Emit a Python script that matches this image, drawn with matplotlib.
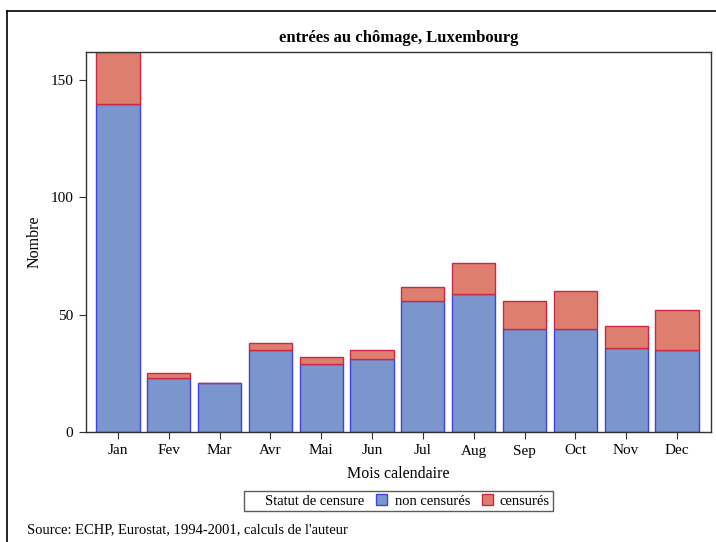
import matplotlib.pyplot as plt
import numpy as np
from matplotlib.patches import Patch
from matplotlib.lines import Line2D

plt.rcParams["font.family"] = ["Liberation Serif", "DejaVu Serif"]

mois = ["Jan", "Fev", "Mar", "Avr", "Mai", "Jun", "Jul", "Aug", "Sep", "Oct", "Nov", "Dec"]
non_censures = [140, 23, 21, 35, 29, 31, 56, 59, 44, 44, 36, 35]
censures = [22, 2, 0, 3, 3, 4, 6, 13, 12, 16, 9, 17]

BLUE_FILL = "#7b96cd"
BLUE_EDGE = "#4040dc"
RED_FILL = "#de7e6e"
RED_EDGE = "#cc2844"

fig = plt.figure(figsize=(7.16, 5.42), dpi=100)
ax = fig.add_axes([86 / 716, 1 - 432 / 542, (711 - 86) / 716, (432 - 52) / 542])

x = np.arange(len(mois))
ax.bar(x, non_censures, width=0.85, color=BLUE_FILL, edgecolor=BLUE_EDGE, linewidth=1.0)
ax.bar(x, censures, width=0.85, bottom=non_censures, color=RED_FILL, edgecolor=RED_EDGE, linewidth=1.0)

ax.set_xlim(-0.63, 11.67)
ax.set_ylim(0, 162)
ax.set_xticks(x)
ax.set_xticklabels(mois)
ax.set_yticks([0, 50, 100, 150])
ax.tick_params(direction="out", length=5, labelsize=11, color="#333333", pad=4)
for s in ax.spines.values():
    s.set_color("#333333")
    s.set_linewidth(1.0)

ax.set_title("entrées au chômage, Luxembourg", fontsize=12, fontweight="bold", pad=7)
ax.set_xlabel("Mois calendaire", fontsize=11.5, labelpad=6)
ax.set_ylabel("Nombre", fontsize=11.5, labelpad=6)

handles = [
    Line2D([], [], linestyle="none"),
    Patch(facecolor=BLUE_FILL, edgecolor=BLUE_EDGE),
    Patch(facecolor=RED_FILL, edgecolor=RED_EDGE),
]
labels = ["Statut de censure", "non censurés", "censurés"]
leg = fig.legend(handles, labels, ncol=3, loc="center",
                 bbox_to_anchor=(398.5 / 716, 1 - 501 / 542),
                 fontsize=10.5, frameon=True, fancybox=False,
                 handlelength=0.75, handleheight=0.75, handletextpad=0.5,
                 columnspacing=0.8, borderpad=0.2, borderaxespad=0)
leg.get_frame().set_edgecolor("#333333")
leg.get_frame().set_linewidth(1.0)

fig.text(27 / 716, 1 - 530 / 542, "Source: ECHP, Eurostat, 1994-2001, calculs de l'auteur",
         fontsize=10.5, ha="left", va="center")

# outer frame
fig.add_artist(Line2D([7 / 716, 7 / 716], [0, 1 - 11 / 542], color="black", linewidth=1.2, transform=fig.transFigure))
fig.add_artist(Line2D([7 / 716, 1], [1 - 11 / 542, 1 - 11 / 542], color="black", linewidth=1.2, transform=fig.transFigure))

fig.savefig("out.png", dpi=100)
